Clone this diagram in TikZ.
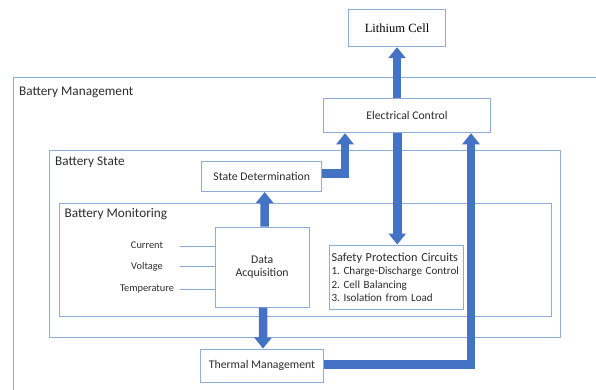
\documentclass[tikz,border=0pt]{standalone}
\usepackage{fontspec}
\setmainfont{Carlito}
\newfontfamily\cellserif{Liberation Serif}
\usetikzlibrary{arrows.meta}
\definecolor{boxblue}{RGB}{143,170,220}
\definecolor{arrowblue}{RGB}{68,114,196}
\definecolor{txt}{RGB}{45,45,45}
\frenchspacing
\begin{document}
\begin{tikzpicture}[x=1bp,y=-1bp,
  frame/.style={draw=boxblue, line width=1bp, inner sep=0pt},
  box/.style={draw=boxblue, line width=1bp, fill=white, inner sep=0pt, text=txt,
    font=\fontsize{11.8}{13.7}\selectfont, align=center},
  hdr/.style={anchor=base west, inner sep=0pt, text=txt, font=\fontsize{13.3}{16}\selectfont},
  sig/.style={inner sep=0pt, text=txt, font=\fontsize{10.4}{12}\selectfont},
  thinline/.style={draw=boxblue, line width=1bp},
  bigarrow/.style={draw=arrowblue, line width=8.5bp, line join=miter,
    -{Triangle[width=17bp,length=11bp]}}]
\useasboundingbox (0,0) rectangle (596,389);
\clip (0,0) rectangle (596,389);
\fill[white] (0,0) rectangle (596,389);

% frames
\node[frame, minimum width=586.7bp, minimum height=323bp] (bm) at (306.6,238.5) {};
\node[frame, minimum width=511.2bp, minimum height=187.3bp] (bs) at (305.1,243.7) {};
\node[frame, minimum width=491.7bp, minimum height=113.8bp] (bmon) at (305.15,259.9) {};
\node[hdr] (bmlabel) at (19,95) {Battery Management};
\node[hdr] (bslabel) at (55,165) {Battery State};
\node[hdr] (bmonlabel) at (64.5,217.7) {Battery Monitoring};

% signal labels and lines
\node[sig] (cur) at (147,245) {Current};
\node[sig] (vol) at (147,266.7) {Voltage};
\node[sig] (tem) at (147,289.3) {Temperature};
\coordinate (c1) at (180,246);
\coordinate (c2) at (180,266.7);
\coordinate (c3) at (180,289.3);

% boxes
\node[box, minimum width=97.4bp, minimum height=37.4bp, text=black] (lc) at (397,28)
  {\cellserif\fontsize{12.6}{15}\selectfont Lithium Cell};
\node[box, minimum width=167.2bp, minimum height=34.5bp] (ec) at (407,115.5) {Electrical Control};
\node[box, minimum width=120bp, minimum height=29.8bp] (sd) at (261.7,176.6) {State Determination};
\node[box, minimum width=94.3bp, minimum height=80bp] (da) at (262.15,267) {Data\\Acquisition};
\node[box, minimum width=133.5bp, minimum height=64.3bp, align=left,
  text width=129.5bp, font=\fontsize{11.1}{13.5}\selectfont] (spc) at (396.25,277.15)
  {{\fontsize{12.3}{13.5}\selectfont Safety Protection Circuits}\\1. Charge-Discharge Control\\2. Cell Balancing\\3. Isolation from Load};
\node[box, minimum width=122.6bp, minimum height=33.3bp] (tm) at (262,365.65) {Thermal Management};

\draw[thinline] (c1) -- (c1 -| da.west);
\draw[thinline] (c2) -- (c2 -| da.west);
\draw[thinline] (c3) -- (c3 -| da.west);

% arrows
\draw[bigarrow] (lc.south |- ec.north) -- (lc.south);
\draw[bigarrow] ([yshift=3bp]sd.east) -| ([xshift=-62bp]ec.south);
\draw[bigarrow] ([xshift=1bp]spc.north |- ec.south) -- ([xshift=1bp]spc.north);
\draw[bigarrow] ([xshift=2.5bp]da.north) -- ([xshift=3bp]sd.south);
\draw[bigarrow] ([xshift=1bp]da.south) -- ([xshift=1bp]tm.north);
\draw[bigarrow] ([yshift=1bp]tm.east) -| ([xshift=64bp]ec.south);
\end{tikzpicture}
\end{document}
